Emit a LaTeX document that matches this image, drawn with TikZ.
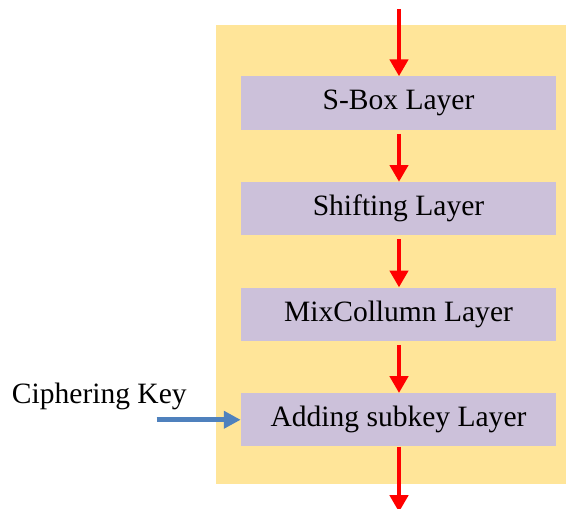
\documentclass[tikz,border=0pt]{standalone}
\usepackage{fontspec}
\setmainfont{Liberation Serif}
\usetikzlibrary{arrows.meta, positioning}
\definecolor{padyellow}{HTML}{FFE599}
\definecolor{layerlilac}{HTML}{CCC1DA}
\definecolor{keyblue}{HTML}{4F81BD}

\begin{document}
\begin{tikzpicture}[x=0.025cm, y=-0.025cm]
    \tikzset{
        layer/.style={fill=layerlilac, minimum width=7.875cm, minimum height=1.325cm,
            inner sep=0pt, font=\fontsize{21}{25}\selectfont},
        flow/.style={red, line width=3.5pt, -{Triangle[width=0.45cm, length=0.42cm]}},
        keyflow/.style={keyblue, line width=3.5pt, -{Triangle[width=0.42cm, length=0.42cm]}}
    }
    \useasboundingbox (0,0) rectangle (566,508);

    % Yellow round panel behind the layers
    \fill[padyellow] (216,25) rectangle (566,484);

    % Layers of the round
    \node[layer] (sbox) at (398.5,103) {S-Box Layer};
    \node[layer, below=1.3cm of sbox] (shift) {Shifting Layer};
    \node[layer, below=1.3cm of shift] (mix) {MixCollumn Layer};
    \node[layer, below=1.3cm of mix] (addkey) {Adding subkey Layer};

    % Input and output of the round
    \coordinate (round_in) at (399,9);
    \coordinate (round_out) at (399,512);

    % Key input
    \node[anchor=base west, font=\fontsize{21}{25}\selectfont] (key) at (7,403) {Ciphering Key};
    \path (addkey.west) ++(-84,0) coordinate (key_in);

    % Red data flow
    \draw[flow] (round_in) -- (sbox.north -| round_in);
    \draw[flow] (sbox.south -| round_in) ++(0,4) -- (shift.north -| round_in);
    \draw[flow] (shift.south -| round_in) ++(0,4) -- (mix.north -| round_in);
    \draw[flow] (mix.south -| round_in) ++(0,4) -- (addkey.north -| round_in);
    \draw[flow] (addkey.south -| round_in) -- (round_out);

    % Blue key flow
    \draw[keyflow] (key_in) -- (addkey.west);
\end{tikzpicture}
\end{document}
